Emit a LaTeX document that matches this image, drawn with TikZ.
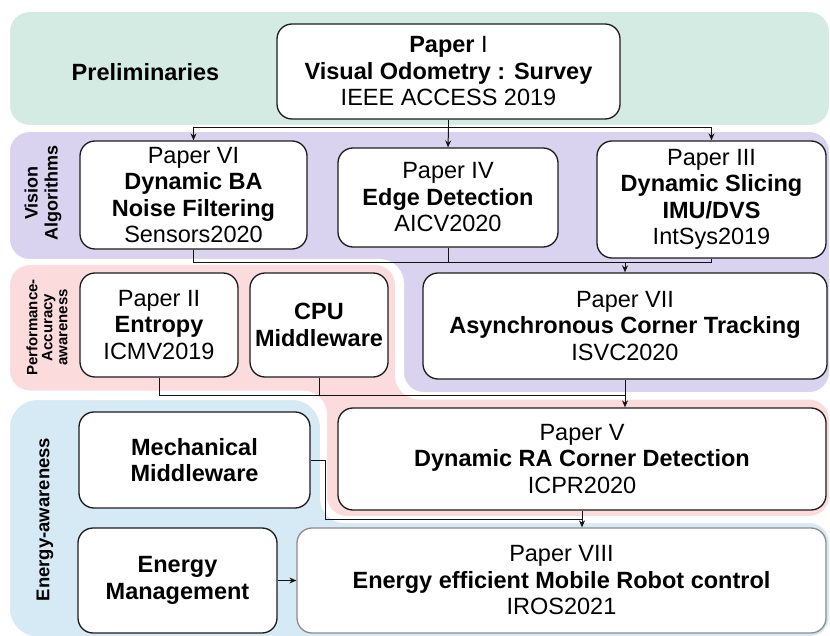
\documentclass[tikz,border=0pt]{standalone}
\usepackage{fontspec}
\setmainfont{Liberation Sans}
\usetikzlibrary{arrows.meta,calc}

\definecolor{bandgreen}{RGB}{212,235,228}
\definecolor{bandpurple}{RGB}{217,211,239}
\definecolor{bandpink}{RGB}{252,219,221}
\definecolor{bandblue}{RGB}{214,234,245}
\definecolor{boxline}{RGB}{28,28,28}
\definecolor{linecol}{RGB}{20,20,20}

\begin{document}
\begin{tikzpicture}[x=1pt,y=-1pt,
  band/.style={draw=white, line width=5pt, rounded corners=22pt},
  paper/.style={draw=boxline, fill=white, line width=1.3pt, rounded corners=15pt,
    align=center, inner sep=0pt, font=\fontsize{23.5}{26.5}\selectfont},
  conn/.style={draw=linecol, line width=1pt},
  arr/.style={conn, -{Stealth[length=7pt,width=6pt]}},
  side/.style={rotate=90, align=center, inner sep=0pt}]

\useasboundingbox (0,0) rectangle (830,636);

% ---- background bands ----
\fill[bandgreen, band] (7.5,9.5) rectangle (831.5,127.5);
\filldraw[fill=bandpurple, band] (7.5,129.5) -- (831.5,129.5) -- (831.5,394.5)
  -- (401.5,394.5) -- (401.5,261.5) -- (7.5,261.5) -- cycle;
\filldraw[fill=bandpink, band] (7.5,262.5) -- (397.5,262.5) -- (397.5,397)
  -- (831.5,397) -- (831.5,518.5) -- (324.5,518.5) -- (324.5,393)
  -- (7.5,393) -- cycle;
\filldraw[fill=bandblue, band, rounded corners=30pt] (7.5,397.5) -- (322.5,397.5)
  [rounded corners=22pt] -- (322.5,520.5) -- (831.5,520.5) -- (831.5,639)
  [rounded corners=30pt] -- (7.5,639) -- cycle;

% ---- band labels ----
\node[font=\bfseries\fontsize{23.5}{26.5}\selectfont] (lpre) at (145.5,72) {Preliminaries};
\node[side, font=\bfseries\fontsize{18}{20}\selectfont] (lvis) at (43,193) {Vision\\Algorithms};
\node[side, font=\bfseries\fontsize{15}{15}\selectfont] (lperf) at (47,327.5) {Performance-\\Accuracy\\awareness};
\node[side, font=\bfseries\fontsize{18.5}{20}\selectfont] (lene) at (45,519.5) {Energy-awareness};

% ---- paper boxes ----
\node[paper, minimum width=343pt, minimum height=95pt] (p1) at (448.5,71.5)
  {\textbf{Paper} I\\\textbf{Visual Odometry : Survey}\\IEEE ACCESS 2019};
\node[paper, minimum width=227pt, minimum height=108pt] (p6) at (193.5,195)
  {Paper VI\\\textbf{Dynamic BA}\\\textbf{Noise Filtering}\\Sensors2020};
\node[paper, minimum width=220pt, minimum height=99pt] (p4) at (448,197.5)
  {Paper IV\\\textbf{Edge Detection}\\AICV2020};
\node[paper, minimum width=229pt, minimum height=117pt] (p3) at (711.5,199.5)
  {Paper III\\\textbf{Dynamic Slicing}\\\textbf{IMU/DVS}\\IntSys2019};
\node[paper, minimum width=404pt, minimum height=106pt] (p7) at (625,326)
  {Paper VII\\\textbf{Asynchronous Corner Tracking}\\ISVC2020};
\node[paper, minimum width=158pt, minimum height=104pt] (p2) at (159,325)
  {Paper II\\\textbf{Entropy}\\ICMV2019};
\node[paper, minimum width=138pt, minimum height=104pt] (cpu) at (319,325)
  {\textbf{CPU}\\\textbf{Middleware}};
\node[paper, minimum width=488pt, minimum height=102pt] (p5) at (582,459)
  {Paper V\\\textbf{Dynamic RA Corner Detection}\\ICPR2020};
\node[paper, minimum width=231pt, minimum height=96pt] (mm) at (194.5,460)
  {\textbf{Mechanical}\\\textbf{Middleware}};
\node[paper, minimum width=199pt, minimum height=105pt] (em) at (177.5,580.5)
  {\textbf{Energy}\\\textbf{Management}};
\node[paper, draw=gray!90, minimum width=529pt, minimum height=105pt] (p8) at (561.5,580.5)
  {Paper VIII\\\textbf{Energy efficient Mobile Robot control}\\IROS2021};

% ---- bus levels ----
\coordinate (y1) at (0,128);
\coordinate (y2) at (0,263);
\coordinate (y3) at (0,395);
\coordinate (y4) at (0,519);

% Paper I feeds the vision algorithms
\coordinate (b1) at (p1.south |- y1);
\draw[conn] (p1.south) -- (b1);
\draw[arr] (b1) -| (p6.north);
\draw[arr] (b1) -- (p4.north);
\draw[arr] (b1) -| (p3.north);

% vision algorithms feed Paper VII
\coordinate (b2) at (p7.north |- y2);
\draw[conn] (p6.south) |- (b2);
\draw[conn] (p3.south) |- (b2);
\draw[conn] (p4.south) -- (p4.south |- y2);
\draw[arr] (b2) -- (p7.north);

% Paper VII, Paper II and CPU middleware feed Paper V
\coordinate (b3) at (p7.south |- y3);
\draw[conn] (p2.south) |- (b3);
\draw[conn] (cpu.south) -- (cpu.south |- y3);
\draw[conn] (p7.south) -- (b3);
\draw[arr] (b3) -- (p7.south |- p5.north);

% Paper V and mechanical middleware feed Paper VIII
\coordinate (b4) at (p5.south |- y4);
\draw[conn] (mm.east) -- ++(15,0) |- (b4);
\draw[arr] (p5.south) -- (p5.south |- p8.north);

% energy management feeds Paper VIII
\draw[arr] (em.east) -- (em.east -| p8.west);

\end{tikzpicture}
\end{document}
